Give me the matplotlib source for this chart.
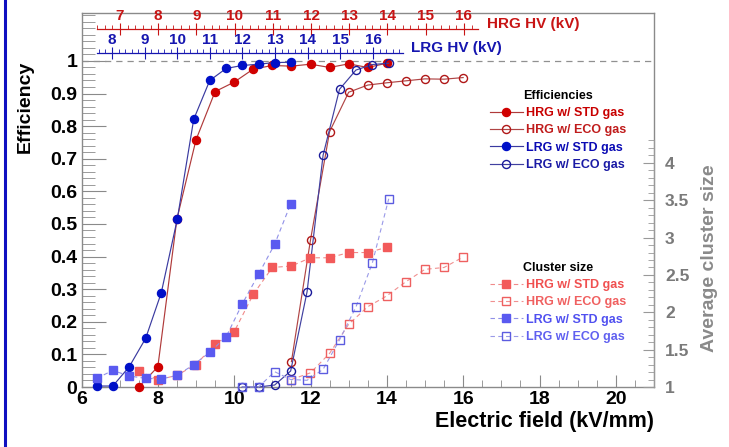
import numpy as np
import matplotlib
matplotlib.use("Agg")
import matplotlib.pyplot as plt
from matplotlib.ticker import FixedLocator, MultipleLocator, FuncFormatter
from matplotlib.lines import Line2D

plt.rcParams['font.family'] = ['Liberation Sans', 'DejaVu Sans']
plt.rcParams['font.weight'] = 'bold'

# ---------------- data ----------------
hrg_std_E = [7.5, 8, 8.5, 9, 9.5, 10, 10.5, 11, 11.5, 12, 12.5, 13, 13.5, 14]
hrg_std_eff = [0.0, 0.062, 0.515, 0.758, 0.906, 0.935, 0.975, 0.986, 0.984, 0.99, 0.98, 0.991, 0.98, 0.993]
hrg_std_cs = [1.218, 1.094, 1.157, 1.30, 1.576, 1.74, 2.24, 2.60, 2.62, 2.73, 2.73, 2.80, 2.80, 2.87]

hrg_eco_E = [11.5, 12, 12.5, 13, 13.5, 14, 14.5, 15, 15.5, 16]
hrg_eco_eff = [0.078, 0.451, 0.783, 0.904, 0.926, 0.933, 0.939, 0.945, 0.944, 0.949]
hrg_eco_cs = [1.10, 1.19, 1.45, 1.84, 2.075, 2.22, 2.41, 2.575, 2.60, 2.74]

lrg_std_E = [6.40, 6.82, 7.25, 7.68, 8.09, 8.51, 8.94, 9.36, 9.79, 10.21, 10.64, 11.06, 11.48]
lrg_std_eff = [0.003, 0.003, 0.062, 0.149, 0.289, 0.515, 0.821, 0.94, 0.977, 0.986, 0.99, 0.995, 0.996]
lrg_std_cs = [1.116, 1.222, 1.147, 1.116, 1.107, 1.157, 1.30, 1.464, 1.673, 2.11, 2.51, 2.91, 3.45]

lrg_eco_E = [10.21, 10.64, 11.06, 11.48, 11.91, 12.33, 12.76, 13.19, 13.62, 14.05]
lrg_eco_eff = [0.0, 0.0, 0.006, 0.049, 0.292, 0.711, 0.913, 0.972, 0.989, 0.993]
lrg_eco_cs = [1.0, 1.0, 1.205, 1.10, 1.09, 1.236, 1.63, 2.07, 2.66, 3.52]

x_ticks = [6, 8, 10, 12, 14, 16, 18, 20]
eff_ticks = [0, 0.1, 0.2, 0.3, 0.4, 0.5, 0.6, 0.7, 0.8, 0.9, 1]
cs_ticks = [1, 1.5, 2, 2.5, 3, 3.5, 4]
hrg_hv_ticks = [7, 8, 9, 10, 11, 12, 13, 14, 15, 16]
lrg_hv_ticks = [8, 9, 10, 11, 12, 13, 14, 15, 16]

# ---------------- figure ----------------
W, H = 729, 447
fig = plt.figure(figsize=(W / 100, H / 100), dpi=100)
L, R, T, B = 81.5, 654, 13, 387
ax = fig.add_axes([L / W, 1 - B / H, (R - L) / W, (B - T) / H])
ax.set_xlim(6, 21)
ax.set_ylim(0, 1.147)

frame_c = '#8a8a8a'
for s in ax.spines.values():
    s.set_color(frame_c)
    s.set_linewidth(1.0)

fmt = FuncFormatter(lambda v, p: '%g' % v)
ax.xaxis.set_major_locator(FixedLocator(x_ticks))
ax.xaxis.set_minor_locator(MultipleLocator(0.5))
ax.yaxis.set_major_locator(FixedLocator(eff_ticks))
ax.yaxis.set_minor_locator(MultipleLocator(0.02))
ax.xaxis.set_major_formatter(fmt)
ax.yaxis.set_major_formatter(fmt)
ax.tick_params(axis='x', which='major', direction='in', length=9, color=frame_c,
               labelsize=14, pad=3)
ax.tick_params(axis='x', which='minor', direction='in', length=5, color=frame_c)
ax.tick_params(axis='y', which='major', direction='in', length=17, color=frame_c,
               labelsize=14, pad=3)
ax.tick_params(axis='y', which='minor', direction='in', length=9, color=frame_c)
for lab in ax.get_xticklabels() + ax.get_yticklabels():
    lab.set_fontweight('bold')

ax.axhline(1.0, color='#909090', lw=0.9, ls=(0, (5, 4)))

ax.set_xlabel('Electric field (kV/mm)', fontsize=15.5, fontweight='bold', loc='right',
              labelpad=2)
fig.text(25 / W, 1 - 106.5 / H, 'Efficiency', rotation=90, ha='center', va='center',
         fontsize=14, fontweight='bold')

# efficiency curves
ms = 5.8
l1, = ax.plot(hrg_std_E, hrg_std_eff, '-', color='#b03a3a', lw=0.85, marker='o', ms=ms,
              mfc='#d00000', mec='#d00000', clip_on=False, zorder=3)
l2, = ax.plot(hrg_eco_E, hrg_eco_eff, '-', color='#b04545', lw=0.85, marker='o', ms=ms,
              mfc='none', mec='#b01818', mew=1.0, clip_on=False, zorder=3)
l3, = ax.plot(lrg_std_E, lrg_std_eff, '-', color='#3a3aa0', lw=0.85, marker='o', ms=ms,
              mfc='#0010c8', mec='#0010c8', clip_on=False, zorder=4)
l4, = ax.plot(lrg_eco_E, lrg_eco_eff, '-', color='#4040a0', lw=0.85, marker='o', ms=ms,
              mfc='none', mec='#1a1a9a', mew=1.0, clip_on=False, zorder=4)

# cluster size axis
ax2 = ax.twinx()
ax2.set_ylim(1, 1 + (B - T) / 74.7)
for k in ['top', 'left', 'bottom']:
    ax2.spines[k].set_visible(False)
ax2.spines['right'].set_color('#999999')
ax2.spines['right'].set_bounds(1, 4.3)
ax2.yaxis.set_major_locator(FixedLocator(cs_ticks))
ax2.yaxis.set_minor_locator(FixedLocator(np.arange(1, 4.31, 0.1)))
ax2.yaxis.set_major_formatter(fmt)
ax2.tick_params(axis='y', which='major', direction='in', length=8, color='#999999',
                labelsize=12.5, labelcolor='#7a7a7a', pad=8)
ax2.tick_params(axis='y', which='minor', direction='in', length=4, color='#999999')
for lab in ax2.get_yticklabels():
    lab.set_fontweight('bold')
fig.text(709 / W, 1 - 258 / H, 'Average cluster size', rotation=90, ha='center',
         va='center', fontsize=14, fontweight='bold', color='#8a8a8a')

sm = 5.4
c1, = ax2.plot(hrg_std_E, hrg_std_cs, ls=(0, (4, 3)), color='#f08a8a', lw=0.8, marker='s',
               ms=sm, mfc='#f25a5a', mec='#f25a5a', clip_on=False, zorder=3)
c2, = ax2.plot(hrg_eco_E, hrg_eco_cs, ls=(0, (4, 3)), color='#f09090', lw=0.8, marker='s',
               ms=sm, mfc='none', mec='#ee6060', mew=1.0, clip_on=False, zorder=3)
c3, = ax2.plot(lrg_std_E, lrg_std_cs, ls=(0, (4, 3)), color='#9090e8', lw=0.8, marker='s',
               ms=sm, mfc='#5a5af0', mec='#5a5af0', clip_on=False, zorder=4)
c4, = ax2.plot(lrg_eco_E, lrg_eco_cs, ls=(0, (4, 3)), color='#9a9ae8', lw=0.8, marker='s',
               ms=sm, mfc='none', mec='#5c5ce0', mew=1.0, clip_on=False, zorder=4)

# legends
common = dict(loc='upper left', bbox_transform=fig.transFigure, frameon=False,
              fontsize=9, title_fontsize=9, handlelength=2.6, handletextpad=0.3,
              labelspacing=0.42, borderpad=0, borderaxespad=0)
leg1 = ax2.legend([l1, l2, l3, l4],
                  ['HRG w/ STD gas', 'HRG w/ ECO gas', 'LRG w/ STD gas', 'LRG w/ ECO gas'],
                  title='Efficiencies', bbox_to_anchor=(490 / W, 1 - 90 / H),
                  labelcolor=['#c80000', '#c01c1c', '#0a0ab4', '#1a1aa5'], **common)
leg1.get_title().set_fontweight('bold')
for t in leg1.get_texts():
    t.set_fontweight('bold')
ax2.add_artist(leg1)

leg2 = ax2.legend([c1, c2, c3, c4],
                  ['HRG w/ STD gas', 'HRG w/ ECO gas', 'LRG w/ STD gas', 'LRG w/ ECO gas'],
                  title='Cluster size', bbox_to_anchor=(490 / W, 1 - 262 / H),
                  labelcolor=['#f05050', '#f06060', '#5050f0', '#6060f0'], **common)
leg2.get_title().set_fontweight('bold')
for t in leg2.get_texts():
    t.set_fontweight('bold')


# top HV axes
def hv_axis(x0, x1, y, lim, ticks, color):
    a = fig.add_axes([x0 / W, 1 - y / H, (x1 - x0) / W, 1e-5])
    a.patch.set_visible(False)
    for k in ['left', 'right', 'bottom']:
        a.spines[k].set_visible(False)
    a.spines['top'].set_color(color)
    a.spines['top'].set_linewidth(0.9)
    a.set_yticks([])
    a.set_xlim(*lim)
    a.xaxis.tick_top()
    a.xaxis.set_label_position('top')
    a.xaxis.set_major_locator(FixedLocator(ticks))
    a.xaxis.set_minor_locator(MultipleLocator(0.2))
    a.xaxis.set_major_formatter(fmt)
    a.tick_params(axis='x', which='major', direction='inout', length=8, color=color,
                  labelsize=11, labelcolor=color, pad=0)
    a.tick_params(axis='x', which='minor', direction='out', length=3, color=color)
    for lab in a.get_xticklabels():
        lab.set_fontweight('bold')
    return a


hrg_c = '#c81414'
lrg_c = '#1616b0'
hv_axis(97, 478, 29, (6.40, 16.37), hrg_hv_ticks, hrg_c)
hv_axis(97, 403, 53, (7.54, 16.92), lrg_hv_ticks, lrg_c)
fig.text(487 / W, 1 - 24 / H, 'HRG HV (kV)', color=hrg_c, fontsize=11, fontweight='bold',
         ha='left', va='center')
fig.text(411 / W, 1 - 48 / H, 'LRG HV (kV)', color=lrg_c, fontsize=11, fontweight='bold',
         ha='left', va='center')

# blue border line at left edge
fig.add_artist(Line2D([5 / W, 5 / W], [0, 1], color='#1010c0', lw=2.2,
                      transform=fig.transFigure))

fig.savefig('out.png', dpi=100)
